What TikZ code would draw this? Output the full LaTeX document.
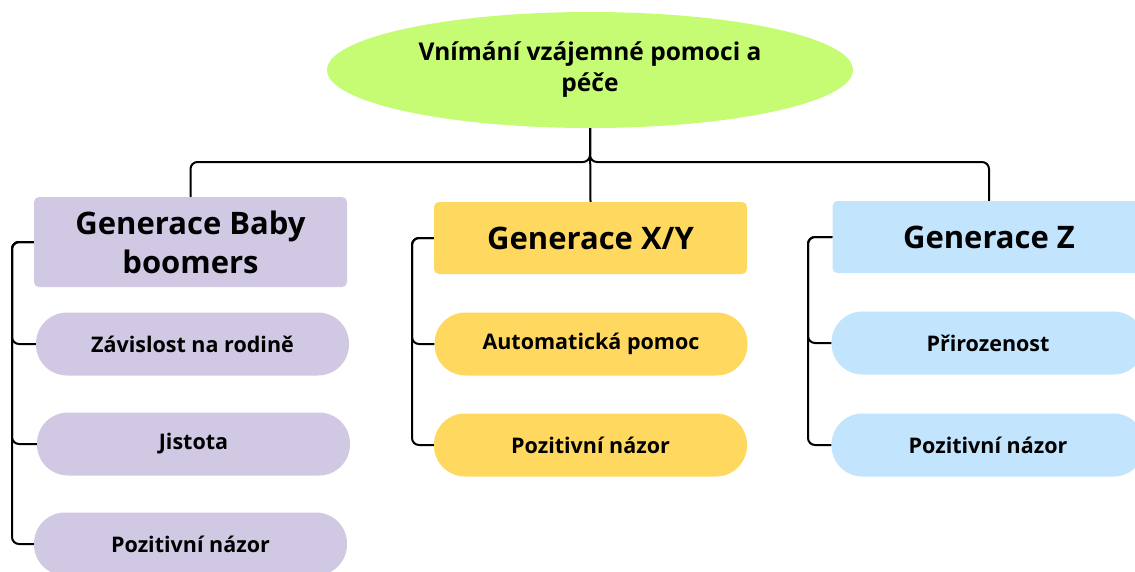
\documentclass[tikz,border=0pt]{standalone}
\usepackage{fontspec}
\setmainfont{Open Sans}
\usetikzlibrary{shapes.geometric,positioning}
\definecolor{rootgreen}{HTML}{C5FC74}
\definecolor{lavender}{HTML}{D1C9E4}
\definecolor{sunyellow}{HTML}{FFD95F}
\definecolor{skyblue}{HTML}{C2E4FC}
\tikzset{
  conn/.style={line width=2pt, rounded corners=7pt},
  genbox/.style={rectangle, rounded corners=5pt, minimum width=313pt, align=center,
    inner sep=0pt, font=\fontsize{31}{39}\selectfont\bfseries},
  pill/.style={rectangle, rounded corners=31pt, minimum width=313pt, minimum height=63pt,
    inner sep=0pt, align=center, font=\fontsize{21.5}{26}\selectfont\bfseries},
}
\begin{document}
\begin{tikzpicture}[x=1pt,y=1pt,yscale=-1]
\useasboundingbox (0,0) rectangle (1135,571);
\clip (0,0) rectangle (1135,571);

%Root ellipse
\node[ellipse, fill=rootgreen, minimum width=526pt, minimum height=116pt, inner sep=0pt,
  align=center, font=\fontsize{24.5}{31}\selectfont\bfseries] (root) at (590,70)
  {Vnímání vzájemné pomoci a\\péče};

%Generation headers
\node[genbox, fill=lavender, minimum height=90pt] (bb) at (190.5,242) {Generace Baby\\boomers};
\node[genbox, fill=sunyellow, minimum height=72pt] (xy) at (590.5,238) {Generace X/Y};
\node[genbox, fill=skyblue, minimum height=72pt] (gz) at (989,237) {Generace Z};

%Pills
\node[pill, fill=lavender] (bb1) at (192.5,344) {Závislost na rodině};
\node[pill, fill=lavender] (bb2) at (193.5,444) {Jistota};
\node[pill, fill=lavender] (bb3) at (190.5,544) {Pozitivní názor};
\node[pill, fill=sunyellow] (xy1) at (591,344) {Automatická pomoc};
\node[pill, fill=sunyellow] (xy2) at (590.5,445) {Pozitivní názor};
\node[pill, fill=skyblue] (gz1) at (988,343) {Přirozenost};
\node[pill, fill=skyblue] (gz2) at (988,445) {Pozitivní názor};

%Tree from root
\coordinate (split) at (590,162);
\draw[conn] (root.south) -- (xy.north);
\draw[conn] (root.south) -- (split) -| (bb.north);
\draw[conn] (root.south) -- (split) -| (gz.north);

%Brackets
\coordinate (bbx) at (12,242);
\coordinate (xyx) at (412,238);
\coordinate (gzx) at (808,237);
\foreach \n in {bb1,bb2,bb3}
  \draw[conn] (bb.west) -- (bbx) |- (\n.west);
\foreach \n in {xy1,xy2}
  \draw[conn] (xy.west) -- (xyx) |- (\n.west);
\foreach \n in {gz1,gz2}
  \draw[conn] (gz.west) -- (gzx) |- (\n.west);

\end{tikzpicture}
\end{document}
